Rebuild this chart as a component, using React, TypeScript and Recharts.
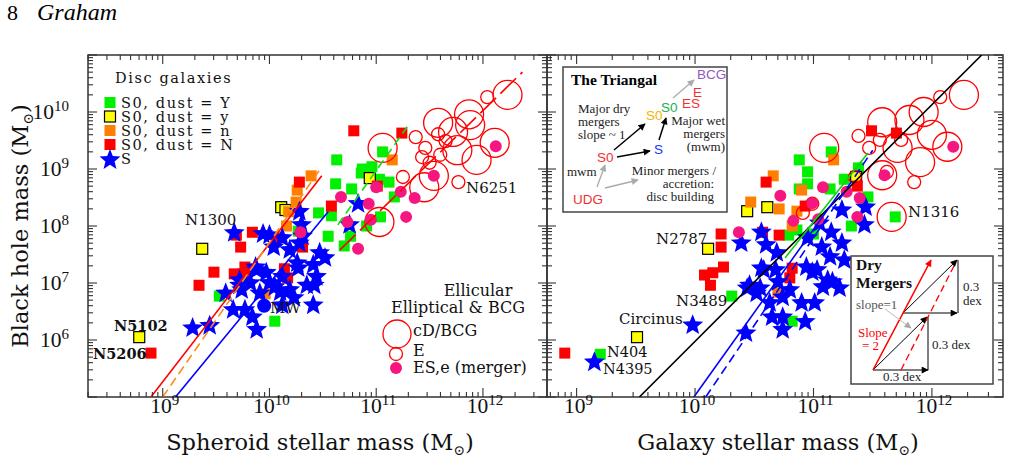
import React from 'react';
import { ScatterChart, Scatter, XAxis, YAxis, ReferenceArea } from 'recharts';

// Every point is [log10 stellar mass, log10 black hole mass] in solar units.
type Pt = [number, number];

// ---- Left panel: spheroid stellar mass ----
const SPH_S0_DUST_Y: Pt[] = [
  [10.63, 9.16], [11.06, 9.3], [10.87, 9.0], [10.96, 9.04], [10.86, 8.93], [10.62, 8.74],
  [10.77, 8.65], [11.03, 8.82], [11.12, 8.77], [11.17, 8.51], [10.46, 8.23], [10.58, 8.18],
  [11.04, 8.16], [10.91, 8.0], [10.55, 7.82], [10.76, 7.82], [10.7, 7.65], [10.27, 7.91],
  [10.05, 6.33], [9.53, 6.77],
];
const SPH_S0_DUST_y: Pt[] = [[10.11, 8.33], [10.15, 8.28], [9.37, 7.6], [8.78, 6.05], [10.94, 8.84]];
const SPH_S0_DUST_n: Pt[] = [
  [10.39, 8.88], [10.26, 8.63], [10.25, 8.42], [10.18, 8.25], [10.16, 8.0], [9.96, 6.81], [11.15, 9.16],
];
const SPH_S0_DUST_N: Pt[] = [
  [8.89, 5.77], [9.34, 6.96], [9.48, 7.19], [9.67, 7.16], [9.75, 7.16], [9.77, 7.28], [9.78, 7.12],
  [9.69, 7.84], [9.84, 7.89], [9.73, 7.63], [10.07, 7.79], [10.14, 7.25], [10.17, 7.09], [10.28, 8.77],
  [10.31, 7.63], [10.58, 8.35], [10.79, 9.67], [11.24, 9.63], [11.01, 8.7],
];
const SPH_SPIRAL: Pt[] = [
  [9.67, 7.88], [9.94, 7.86], [10.0, 7.84], [10.28, 8.25], [10.3, 8.02], [10.12, 7.79], [10.04, 7.63],
  [10.19, 7.58], [10.31, 7.82], [10.47, 7.53], [10.52, 7.44], [10.41, 7.32], [10.26, 7.35], [9.87, 7.28],
  [9.97, 7.18], [10.12, 7.11], [10.0, 7.0], [9.82, 7.0], [9.72, 6.96], [9.59, 6.82], [9.74, 6.88],
  [9.91, 6.82], [10.1, 6.84], [10.23, 6.74], [10.35, 6.96], [10.44, 7.11], [10.41, 6.61], [9.66, 6.53],
  [9.77, 6.53], [9.84, 6.4], [9.28, 6.21], [9.44, 6.25], [9.88, 6.18], [9.72, 7.05], [9.88, 7.23],
  [10.27, 7.26], [10.42, 6.96], [10.19, 6.88], [10.12, 6.61], [10.05, 6.93], [10.83, 8.39], [10.75, 8.02],
  [10.28, 7.7],
];
const SPH_MW: Pt[] = [[9.95, 6.6]];
const SPH_CD_BCG: Pt[] = [
  [11.06, 9.37], [11.58, 9.81], [11.87, 9.96], [12.23, 10.3], [11.72, 9.65], [11.76, 9.33], [11.88, 9.77],
  [11.94, 9.16], [12.11, 9.46], [11.54, 8.88], [11.45, 8.68], [11.03, 8.07],
];
const SPH_E: Pt[] = [
  [12.04, 10.26], [11.37, 9.56], [11.46, 9.37], [11.58, 9.61], [11.65, 9.49], [11.25, 8.86], [11.77, 8.77],
  [11.5, 9.11], [11.6, 9.25], [11.43, 9.21],
];
const SPH_ES_MERGER: Pt[] = [
  [10.67, 8.51], [10.93, 8.39], [10.95, 8.11], [10.73, 8.07], [11.28, 8.16], [11.36, 8.49], [11.23, 8.6],
  [10.83, 7.6], [10.29, 7.89], [11.54, 8.88], [12.12, 9.4], [11.0, 8.68],
];
// fitted relations, two end points each
const SPH_FIT_S0_RED: Pt[] = [[8.89, 5.0], [10.49, 8.88]];
const SPH_FIT_S0_ORANGE: Pt[] = [[9.0, 5.0], [10.49, 9.04]];
const SPH_FIT_SPIRAL: Pt[] = [[9.12, 5.0], [10.55, 8.25]];
const SPH_FIT_S0_GREEN: Pt[] = [[10.64, 8.02], [11.29, 9.74]];
const SPH_FIT_ELL: Pt[] = [[10.66, 7.58], [12.37, 10.7]];

// ---- Right panel: galaxy stellar mass ----
const GAL_S0_DUST_Y: Pt[] = [
  [9.2, 5.75], [10.31, 6.77], [10.88, 9.16], [10.95, 8.95], [10.95, 8.74], [10.88, 8.65], [11.15, 9.3],
  [11.26, 8.82], [11.14, 8.65], [10.79, 7.84], [11.0, 7.86], [10.86, 7.93], [10.82, 6.33], [11.38, 9.02],
  [11.46, 8.51], [11.32, 8.0], [11.69, 8.16],
];
const GAL_S0_DUST_y: Pt[] = [[10.11, 7.6], [9.51, 6.05], [10.44, 8.26], [10.61, 8.33], [11.36, 8.86]];
const GAL_S0_DUST_n: Pt[] = [
  [10.66, 8.88], [10.47, 8.42], [10.71, 8.3], [10.86, 8.26], [10.82, 8.0], [10.9, 8.63], [11.17, 9.16], [10.7, 6.84],
];
const GAL_S0_DUST_N: Pt[] = [
  [8.9, 5.77], [10.22, 7.86], [10.22, 7.63], [10.57, 7.89], [10.71, 7.84], [10.6, 8.77], [10.08, 7.14],
  [10.15, 7.18], [10.24, 7.28], [10.13, 6.96], [10.93, 8.35], [10.82, 7.26], [10.8, 7.09], [11.49, 9.67],
  [11.7, 9.63], [11.37, 8.7],
];
const GAL_SPIRAL: Pt[] = [
  [9.15, 5.61], [9.98, 6.26], [10.43, 6.12], [10.39, 7.7], [10.56, 7.89], [10.56, 7.26], [10.44, 6.91],
  [10.52, 6.82], [10.6, 7.67], [10.69, 7.53], [10.46, 6.96], [10.55, 6.91], [10.7, 7.02], [10.8, 6.88],
  [10.74, 6.75], [10.94, 7.28], [11.03, 7.23], [11.07, 7.63], [11.14, 7.46], [11.24, 8.28], [11.16, 7.02],
  [11.08, 6.93], [11.01, 6.65], [10.9, 6.65], [10.74, 6.4], [10.63, 6.65], [10.65, 6.4], [10.93, 6.32],
  [11.22, 6.91], [11.26, 7.4], [11.15, 7.89], [10.74, 6.18], [11.12, 7.05], [11.24, 7.7], [10.99, 7.19],
  [10.95, 7.79], [11.44, 8.33], [11.05, 8.05], [11.43, 8.02], [10.58, 7.23], [10.68, 7.23],
];
const GAL_CD_BCG: Pt[] = [
  [11.09, 9.37], [11.58, 9.82], [11.93, 10.0], [12.0, 9.6], [12.27, 10.3], [11.9, 9.12], [11.58, 8.89],
  [11.66, 8.16], [11.71, 9.37], [12.13, 9.39], [11.81, 9.86],
];
const GAL_E: Pt[] = [
  [12.07, 10.26], [11.38, 9.58], [11.47, 9.37], [11.56, 9.51], [11.62, 8.95], [11.85, 8.77], [10.91, 8.23],
  [10.99, 8.39], [11.35, 8.86], [11.74, 9.51],
];
const GAL_ES_MERGER: Pt[] = [
  [10.72, 8.53], [11.08, 8.68], [11.28, 8.6], [11.39, 8.49], [11.6, 8.89], [12.18, 9.39], [10.99, 8.4],
  [11.37, 8.16], [11.04, 8.12], [10.83, 8.09], [10.37, 7.89],
];
const GAL_FIT_ALL: Pt[] = [[9.53, 5.0], [12.42, 11.0]];
const GAL_FIT_SPIRAL: Pt[] = [[9.99, 5.0], [11.22, 8.58]];
const GAL_FIT_SPIRAL_ALT: Pt[] = [[10.09, 5.0], [11.5, 9.33]];
const GAL_FIT_S0_GREEN: Pt[] = [[10.76, 7.44], [11.46, 9.28]];

// axis ranges (dex) and labelled decades
const Y_RANGE: [number, number] = [5, 11];
const SPH_X_RANGE: [number, number] = [8.3, 12.6];
const GAL_X_RANGE: [number, number] = [8.75, 12.6];
const Y_LABELS = [6, 7, 8, 9, 10];
const X_LABELS = [9, 10, 11, 12];

const SERIF = "'DejaVu Serif', serif";
const TIMES = "'Liberation Serif', 'Times New Roman', serif";
const SANS = "'Liberation Sans', Arial, sans-serif";
const FRAME = '#333';
const PLOT_H = 342;

const C = {
  green: '#00f000',
  yellow: '#ffff00',
  orange: '#ff7f00',
  red: '#ff0000',
  blue: '#0000ff',
  pink: '#f5177f',
};

function logTicks([lo, hi]: [number, number]) {
  const out: number[] = [];
  for (let n = Math.floor(lo); n <= Math.ceil(hi); n++) {
    if (n >= lo && n <= hi) out.push(n);
    for (let k = 2; k <= 9; k++) {
      const v = n + Math.log10(k);
      if (v > lo && v < hi) out.push(v);
    }
  }
  return out;
}

const toXY = (pts: Pt[]) => pts.map(([x, y]) => ({ x, y }));

const starPoints = (cx: number, cy: number, R: number, r: number) => {
  const p: string[] = [];
  for (let i = 0; i < 10; i++) {
    const a = -Math.PI / 2 + (i * Math.PI) / 5;
    const d = i % 2 === 0 ? R : r;
    p.push(`${cx + d * Math.cos(a)},${cy + d * Math.sin(a)}`);
  }
  return p.join(' ');
};

const square = (fill: string, edge?: string) => (p: any) => (
  <rect x={p.cx - 5.5} y={p.cy - 5.5} width={11} height={11} fill={fill}
    stroke={edge ?? 'none'} strokeWidth={edge ? 1.2 : 0} />
);
const star = (p: any) => <polygon points={starPoints(p.cx, p.cy, 11, 4.8)} fill={C.blue} />;
const ring = (r: number) => (p: any) => (
  <circle cx={p.cx} cy={p.cy} r={r} fill="none" stroke={C.red} strokeWidth={1.3} />
);
const dot = (fill: string, r: number) => (p: any) => <circle cx={p.cx} cy={p.cy} r={r} fill={fill} />;
const noMark = () => <g />;

const Sup = ({ x, y, n, anchor }: { x: number; y: number; n: number; anchor: 'middle' | 'end' }) => (
  <text x={x} y={y} textAnchor={anchor} fontFamily={TIMES} fontSize={21.5} fill="#111">
    10<tspan dy={-8} fontSize={15}>{n}</tspan>
  </text>
);

// ticks point inward on all four sides; bottom/left axes also draw the opposite edge
const xTick = (labelled: number[]) => (props: any) => {
  const { x, y, payload } = props;
  const v = payload.value;
  const major = Number.isInteger(v);
  const len = major ? 9 : 5;
  return (
    <g>
      <line x1={x} y1={y} x2={x} y2={y - len} stroke={FRAME} strokeWidth={1.1} />
      <line x1={x} y1={y - PLOT_H} x2={x} y2={y - PLOT_H + len} stroke={FRAME} strokeWidth={1.1} />
      {major && labelled.includes(v) && <Sup x={x + 2} y={y + 16} n={v} anchor="middle" />}
    </g>
  );
};

const yTick = (plotW: number, labelled: number[]) => (props: any) => {
  const { x, y, payload } = props;
  const v = payload.value;
  const major = Number.isInteger(v);
  const len = major ? 9 : 5;
  return (
    <g>
      <line x1={x} y1={y} x2={x + len} y2={y} stroke={FRAME} strokeWidth={1.1} />
      <line x1={x + plotW} y1={y} x2={x + plotW - len} y2={y} stroke={FRAME} strokeWidth={1.1} />
      {major && labelled.includes(v) && <Sup x={x - 19} y={y + 7} n={v} anchor="end" />}
    </g>
  );
};

type Fit = { pts: Pt[]; color: string; dash?: string };

type PanelProps = {
  left: number;
  width: number;
  margin: { top: number; right: number; bottom: number; left: number };
  xRange: [number, number];
  yLabels: number[];
  green: Pt[];
  yellow: Pt[];
  orange: Pt[];
  red: Pt[];
  spiral: Pt[];
  mw?: Pt[];
  cd: Pt[];
  e: Pt[];
  es: Pt[];
  fits: Fit[];
};

// axes are 1px thick (a zero-sized axis is not drawn), so margins are 1px smaller
const Panel = (p: PanelProps) => {
  const plotW = p.width - p.margin.left - p.margin.right - 1;
  return (
    <div style={{ position: 'absolute', left: p.left, top: 0 }}>
      <ScatterChart width={p.width} height={466} margin={p.margin}>
        <XAxis type="number" dataKey="x" domain={p.xRange} allowDataOverflow height={1}
          ticks={logTicks(p.xRange)} interval={0} tickSize={0} tickMargin={0} tickLine={false}
          axisLine={false} tick={xTick(X_LABELS)} />
        <YAxis type="number" dataKey="y" domain={Y_RANGE} allowDataOverflow width={1}
          ticks={logTicks(Y_RANGE)} interval={0} tickSize={0} tickMargin={0} tickLine={false}
          axisLine={false} tick={yTick(plotW, p.yLabels)} />
        <ReferenceArea x1={p.xRange[0]} x2={p.xRange[1]} y1={Y_RANGE[0]} y2={Y_RANGE[1]}
          fill="none" stroke={FRAME} strokeWidth={1.5} ifOverflow="visible" />
        <Scatter data={toXY(p.green)} shape={square(C.green)} isAnimationActive={false} />
        <Scatter data={toXY(p.yellow)} shape={square(C.yellow, '#000')} isAnimationActive={false} />
        <Scatter data={toXY(p.orange)} shape={square(C.orange)} isAnimationActive={false} />
        <Scatter data={toXY(p.red)} shape={square(C.red)} isAnimationActive={false} />
        <Scatter data={toXY(p.spiral)} shape={star} isAnimationActive={false} />
        {p.mw && <Scatter data={toXY(p.mw)} shape={dot(C.blue, 7)} isAnimationActive={false} />}
        <Scatter data={toXY(p.cd)} shape={ring(14.5)} isAnimationActive={false} />
        <Scatter data={toXY(p.e)} shape={ring(6.5)} isAnimationActive={false} />
        <Scatter data={toXY(p.es)} shape={dot(C.pink, 6)} isAnimationActive={false} />
        {p.fits.map((f, i) => (
          <Scatter key={i} data={toXY(f.pts)} fill={f.color} shape={noMark}
            line={{ stroke: f.color, strokeWidth: 1.6, strokeDasharray: f.dash }}
            isAnimationActive={false} />
        ))}
      </ScatterChart>
    </div>
  );
};

const Msun = () => (
  <>
    (M<tspan dy={5} fontSize={14}>⊙</tspan><tspan dy={-5}>)</tspan>
  </>
);

const Annotations = () => (
  <svg width={1015} height={466} style={{ position: 'absolute', left: 0, top: 0, pointerEvents: 'none' }}>
    <defs>
      <marker id="hk" viewBox="0 0 10 10" refX="9" refY="5" markerUnits="userSpaceOnUse" markerWidth="9" markerHeight="7" orient="auto">
        <path d="M0,0 L10,5 L0,10 z" fill="#000" />
      </marker>
      <marker id="hg" viewBox="0 0 10 10" refX="9" refY="5" markerUnits="userSpaceOnUse" markerWidth="9" markerHeight="7" orient="auto">
        <path d="M0,0 L10,5 L0,10 z" fill="#aaa" />
      </marker>
      <marker id="hr" viewBox="0 0 10 10" refX="9" refY="5" markerUnits="userSpaceOnUse" markerWidth="9" markerHeight="7" orient="auto">
        <path d="M0,0 L10,5 L0,10 z" fill="#f00" />
      </marker>
    </defs>

    {/* running head */}
    <text x={7} y={20} fontFamily={TIMES} fontSize={22}>8</text>
    <text x={37} y={20} fontFamily={TIMES} fontSize={24} fontStyle="italic">Graham</text>

    {/* axis titles */}
    <text transform="translate(28,226) rotate(-90)" textAnchor="middle" fontFamily={SERIF} fontSize={22.5} fill="#111">
      Black hole mass <Msun />
    </text>
    <text x={320} y={450} textAnchor="middle" fontFamily={SERIF} fontSize={22.5} fill="#111">
      Spheroid stellar mass <Msun />
    </text>
    <text x={778} y={450} textAnchor="middle" fontFamily={SERIF} fontSize={22.5} fill="#111">
      Galaxy stellar mass <Msun />
    </text>

    {/* disc legend */}
    <g fontFamily={SERIF} fontSize={14.5} fill="#111" letterSpacing={1.6}>
      <text x={115} y={83}>Disc galaxies</text>
      <rect x={104.5} y={97} width={11} height={11} fill={C.green} />
      <text x={121} y={108}>S0, dust = Y</text>
      <rect x={104.5} y={111} width={11} height={11} fill={C.yellow} stroke="#000" strokeWidth={1.2} />
      <text x={121} y={122}>S0, dust = y</text>
      <rect x={104.5} y={125} width={11} height={11} fill={C.orange} />
      <text x={121} y={136}>S0, dust = n</text>
      <rect x={104.5} y={139} width={11} height={11} fill={C.red} />
      <text x={121} y={150}>S0, dust = N</text>
      <polygon points={starPoints(110, 160, 11, 4.8)} fill={C.blue} />
      <text x={121} y={164}>S</text>
    </g>

    {/* early-type legend */}
    <g fontFamily={SERIF} fontSize={16} fill="#111">
      <text x={478} y={296} textAnchor="middle">Ellicular</text>
      <text x={458} y={313} textAnchor="middle">Elliptical &amp; BCG</text>
      <circle cx={397} cy={334} r={14} fill="none" stroke={C.red} strokeWidth={1.3} />
      <text x={413} y={336}>cD/BCG</text>
      <circle cx={396} cy={354} r={6.5} fill="none" stroke={C.red} strokeWidth={1.3} />
      <text x={413} y={356}>E</text>
      <circle cx={396} cy={368} r={6} fill={C.pink} />
      <text x={413} y={373}>ES,e (merger)</text>
    </g>

    {/* galaxy names */}
    <g fontFamily={SERIF} fontSize={15} fill="#111">
      <text x={185} y={225}>N1300</text>
      <text x={270} y={313}>MW</text>
      <text x={466} y={193}>N6251</text>
      <text x={908} y={217}>N1316</text>
      <text x={656} y={244}>N2787</text>
      <text x={676} y={306}>N3489</text>
      <text x={619} y={324}>Circinus</text>
      <text x={607} y={357} fontSize={14.5}>N404</text>
      <text x={603} y={374} fontSize={14.5}>N4395</text>
      <text x={114} y={331} fontWeight="bold" fontSize={14.5}>N5102</text>
      <text x={93} y={359} fontWeight="bold" fontSize={14.5}>N5206</text>
    </g>

    {/* morphology sequence inset */}
    <rect x={563} y={67} width={164} height={145} fill="#fff" stroke="#444" strokeWidth={1.5} />
    <text x={571} y={85} fontFamily={TIMES} fontWeight="bold" fontSize={15.5}>The Triangal</text>
    <g fontFamily={SANS} fontSize={13.5}>
      <text x={697} y={79} fill="#9457c8">BCG</text>
      <text x={693} y={97} fill="#f03030">E</text>
      <text x={682} y={108} fill="#f03030">ES</text>
      <text x={661} y={112} fill="#20b050">S0</text>
      <text x={646} y={120} fill="#f5b400">S0</text>
      <text x={654} y={154} fill="#2030ff">S</text>
      <text x={597} y={162} fill="#f03030">S0</text>
      <text x={573} y={204} fill="#f03030">UDG</text>
    </g>
    <g fontFamily={TIMES} fontSize={13} fill="#222">
      <text x={578} y={113}>Major dry</text>
      <text x={578} y={126}>mergers</text>
      <text x={578} y={139}>slope ~ 1</text>
      <text x={725} y={125} textAnchor="end">Major wet</text>
      <text x={725} y={138} textAnchor="end">mergers</text>
      <text x={725} y={151} textAnchor="end">(mwm)</text>
      <text x={567} y={176}>mwm</text>
      <text x={716} y={175} textAnchor="end">Minor mergers /</text>
      <text x={714} y={188} textAnchor="end">accretion:</text>
      <text x={714} y={201} textAnchor="end">disc building</text>
    </g>
    <g stroke="#000" strokeWidth={1.5} markerEnd="url(#hk)">
      <line x1={614} y1={150} x2={645} y2={124} />
      <line x1={617} y1={157} x2={650} y2={151} />
      <line x1={659} y1={140} x2={666} y2={118} />
    </g>
    <g stroke="#aaa" strokeWidth={1.3} markerEnd="url(#hg)">
      <line x1={597} y1={187} x2={605} y2={165} />
      <line x1={605} y1={188} x2={638} y2={180} />
      <line x1={673} y1={98} x2={694} y2={80} />
    </g>

    {/* dry merger inset */}
    <rect x={851} y={256} width={142} height={128} fill="#fff" stroke="#444" strokeWidth={1.5} />
    <g fontFamily={TIMES} fontWeight="bold" fontSize={15.5} fill="#111">
      <text x={856} y={270}>Dry</text>
      <text x={856} y={288}>Mergers</text>
    </g>
    <g fontFamily={TIMES} fontSize={13} fill="#222">
      <text x={856} y={309} fill="#555">slope=1</text>
      <text x={858} y={337} fill="#f00">Slope</text>
      <text x={862} y={350} fill="#f00">= 2</text>
      <text x={963} y={291}>0.3</text>
      <text x={963} y={305}>dex</text>
      <text x={932} y={349}>0.3 dex</text>
      <text x={883} y={381}>0.3 dex</text>
    </g>
    <g stroke="#000" strokeWidth={1}>
      <line x1={873} y1={370} x2={927} y2={317} markerEnd="url(#hk)" />
      <line x1={873} y1={370} x2={928} y2={370} markerEnd="url(#hk)" />
      <line x1={928} y1={370} x2={928} y2={317} />
      <line x1={903} y1={313} x2={957} y2={260} markerEnd="url(#hk)" />
      <line x1={903} y1={313} x2={957} y2={313} markerEnd="url(#hk)" />
      <line x1={958} y1={313} x2={958} y2={260} />
    </g>
    <line x1={873} y1={370} x2={931} y2={260} stroke="#f00" strokeWidth={1.6} markerEnd="url(#hr)" />
    <line x1={901} y1={370} x2={956} y2={262} stroke="#f00" strokeWidth={1.3} strokeDasharray="7 4" />
    <line x1={885} y1={309} x2={911} y2={328} stroke="#bbb" strokeWidth={1} markerEnd="url(#hg)" />
  </svg>
);

export default function App() {
  return (
    <div style={{ position: 'absolute', left: 0, top: 0, width: 1015, height: 466, background: '#fff' }}>
      <Panel
        left={0}
        width={560}
        margin={{ top: 55, right: 13, bottom: 68, left: 87 }}
        xRange={SPH_X_RANGE}
        yLabels={Y_LABELS}
        green={SPH_S0_DUST_Y}
        yellow={SPH_S0_DUST_y}
        orange={SPH_S0_DUST_n}
        red={SPH_S0_DUST_N}
        spiral={SPH_SPIRAL}
        mw={SPH_MW}
        cd={SPH_CD_BCG}
        e={SPH_E}
        es={SPH_ES_MERGER}
        fits={[
          { pts: SPH_FIT_S0_RED, color: C.red },
          { pts: SPH_FIT_S0_ORANGE, color: '#ff8c1a', dash: '9 5' },
          { pts: SPH_FIT_SPIRAL, color: C.blue },
          { pts: SPH_FIT_S0_GREEN, color: '#10e010', dash: '9 5' },
          { pts: SPH_FIT_ELL, color: C.red, dash: '22 6' },
        ]}
      />
      <Panel
        left={540}
        width={475}
        margin={{ top: 55, right: 12, bottom: 68, left: 6 }}
        xRange={GAL_X_RANGE}
        yLabels={[]}
        green={GAL_S0_DUST_Y}
        yellow={GAL_S0_DUST_y}
        orange={GAL_S0_DUST_n}
        red={GAL_S0_DUST_N}
        spiral={GAL_SPIRAL}
        cd={GAL_CD_BCG}
        e={GAL_E}
        es={GAL_ES_MERGER}
        fits={[
          { pts: GAL_FIT_ALL, color: '#000' },
          { pts: GAL_FIT_SPIRAL, color: C.blue },
          { pts: GAL_FIT_SPIRAL_ALT, color: C.blue, dash: '9 5' },
          { pts: GAL_FIT_S0_GREEN, color: '#10d010' },
        ]}
      />
      <Annotations />
    </div>
  );
}
